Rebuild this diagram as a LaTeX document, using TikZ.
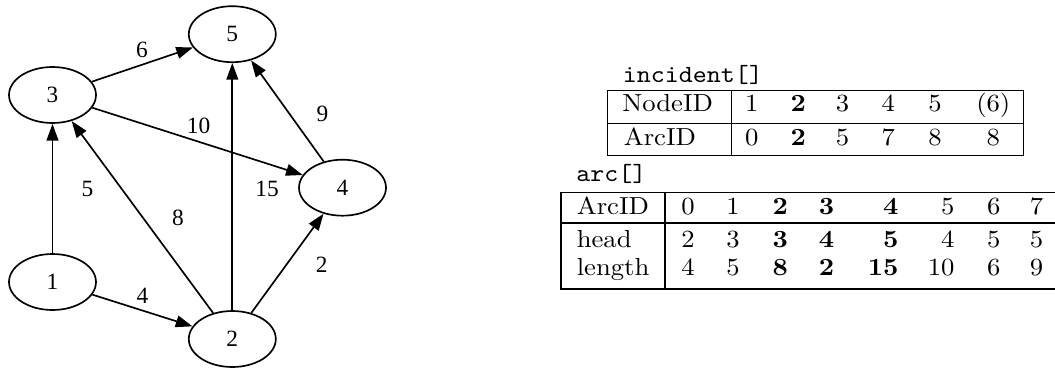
\documentclass[tikz,border=0pt]{standalone}
\usepackage{graphicx}
\usepackage{fontspec}
\newfontfamily\gvfont{Liberation Serif}
\usetikzlibrary{arrows.meta,shapes.geometric}
\newcommand\tcel[1]{\scalebox{2.0}[1.85]{\fontsize{10}{12}\selectfont #1}}
\tikzset{
  gnode/.style={draw, ellipse, line width=1.25pt, minimum width=65.25pt, minimum height=42pt, inner sep=0pt, font=\gvfont\fontsize{17.5}{20}\selectfont},
  garc/.style={line width=1.25pt, -{Triangle[length=12.5pt,width=8.8pt]}},
  glabel/.style={inner sep=0pt, font=\gvfont\fontsize{17.5}{20}\selectfont},
  cellc/.style={inner sep=0pt, anchor=base},
  celll/.style={inner sep=0pt, anchor=base west},
  cellr/.style={inner sep=0pt, anchor=base east},
  tline/.style={line width=1pt}
}
\begin{document}
\begin{tikzpicture}[x=0.75pt,y=-0.75pt]
\useasboundingbox (0,0) rectangle (1055,371);
% graph
\node[gnode] (n5) at (232.3,34.2) {5};
\node[gnode] (n3) at (52.5,95) {3};
\node[gnode] (n4) at (342.5,187.7) {4};
\node[gnode] (n1) at (52.5,282) {1};
\node[gnode] (n2) at (232.3,339) {2};
\draw[garc] (n3) -- (n5);
\draw[garc] (n3) -- (n4);
\draw[garc] (n1) -- (n3);
\draw[garc] (n2) -- (n3);
\draw[garc] (n2) -- (n5);
\draw[garc] (n2) -- (n4);
\draw[garc] (n4) -- (n5);
\draw[garc] (n1) -- (n2);
\node[glabel] (l6) at (142,50) {6};
\node[glabel] (l10) at (198.5,126) {10};
\node[glabel] (l9) at (322.5,114) {9};
\node[glabel] (l5) at (87.5,189) {5};
\node[glabel] (l8) at (178,218) {8};
\node[glabel] (l15) at (267,189) {15};
\node[glabel] (l2) at (321.7,265) {2};
\node[glabel] (l4) at (142.5,296) {4};
% incident table
\node[celll] (inc) at (622.5,82.5) {\tcel{\ttfamily incident[]}};
\draw[tline] (607.3,90.5) rectangle (1023.3,155.5);
\draw[tline] (607.3,123.3) -- (1023.3,123.3);
\draw[tline] (731.7,90.5) -- (731.7,155.5);
\node[celll] (ih1) at (622,111.7) {\tcel{NodeID}};
\node[celll] (ih2) at (623.5,145) {\tcel{ArcID}};
\foreach \x/\t [count=\i] in {751.7/1,798.3/\textbf{2},842.5/3,888.3/4,935/5,993.3/(6)}
  \node[cellc] (ia\i) at (\x,111.7) {\tcel{\t}};
\foreach \x/\t [count=\i] in {751.7/0,798.3/\textbf{2},842.5/5,888.3/7,935/8,993.3/8}
  \node[cellc] (ib\i) at (\x,145) {\tcel{\t}};
% arc table
\node[celll] (arc) at (576,181.7) {\tcel{\ttfamily arc[]}};
\draw[tline] (1055,192.2) -- (561,192.2) -- (561,289) -- (1055,289);
\draw[tline] (561,223) -- (1055,223);
\draw[tline] (665,192.2) -- (665,289);
\node[celll] (ah1) at (576.5,214) {\tcel{ArcID}};
\node[celll] (ah2) at (576.5,247) {\tcel{head}};
\node[celll] (ah3) at (576.5,275.5) {\tcel{length}};
\foreach \x/\a/\b/\c [count=\i] in {695/0/2/4,740/1/3/5,788.2/\textbf{2}/\textbf{3}/\textbf{8},834.4/\textbf{3}/\textbf{4}/\textbf{2},898.7/\textbf{4}/\textbf{5}/\textbf{15},954.7/5/4/10,1000.7/6/5/6,1043.4/7/5/9}{
  \node[cellr] (aa\i) at (\x,214) {\tcel{\a}};
  \node[cellr] (ab\i) at (\x,247) {\tcel{\b}};
  \node[cellr] (ac\i) at (\x,275.5) {\tcel{\c}};
}
\end{tikzpicture}
\end{document}
